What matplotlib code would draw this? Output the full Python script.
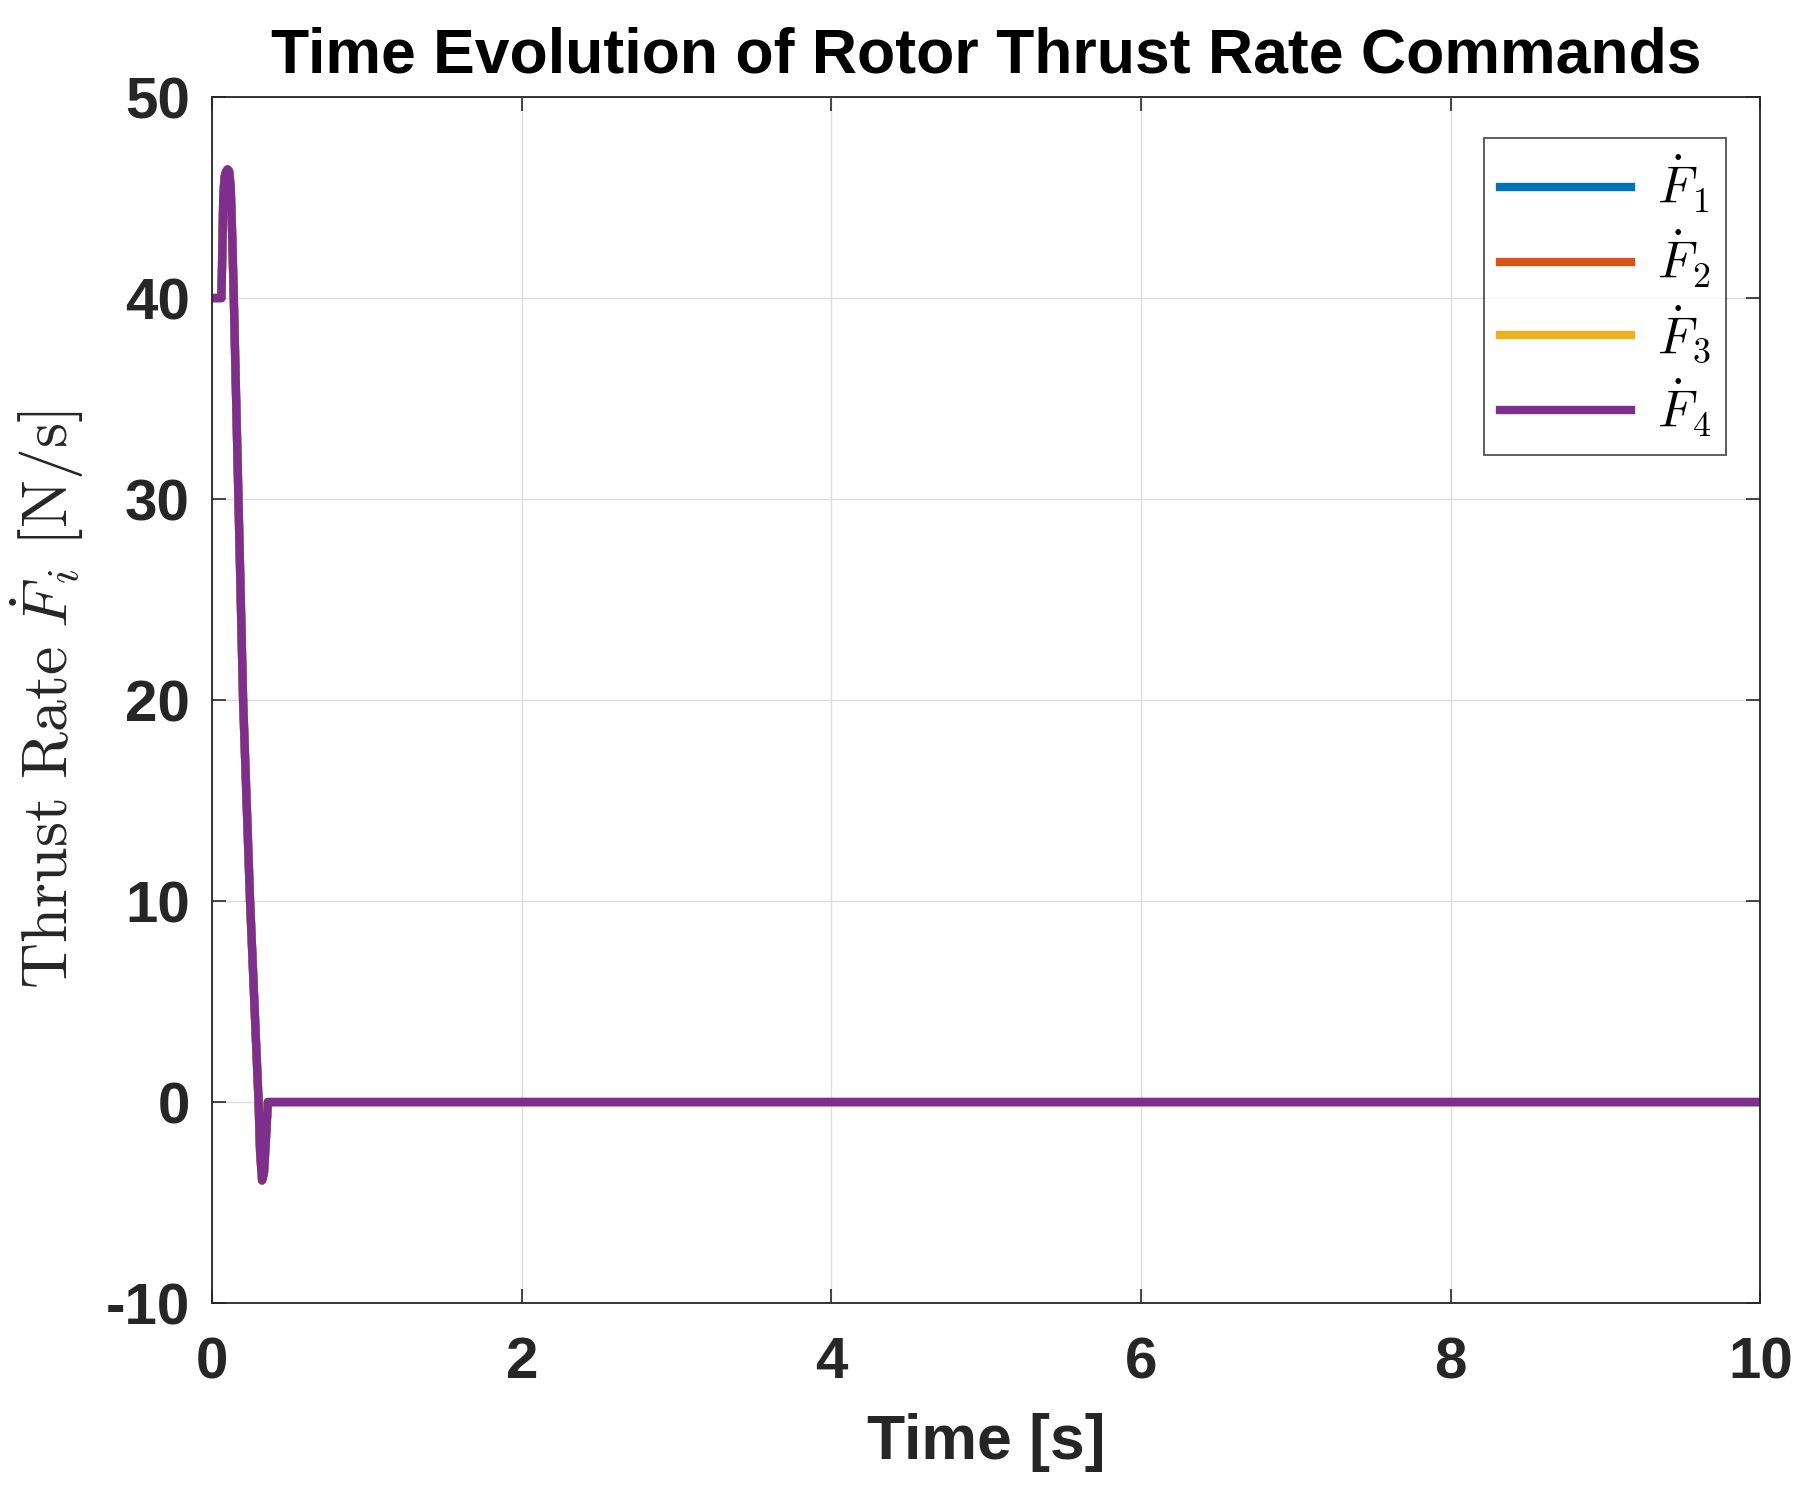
import matplotlib
matplotlib.use('Agg')
import matplotlib.pyplot as plt

# thrust rate command, all four rotors give the same trace
t = [0, 0.06, 0.065, 0.072, 0.08, 0.09, 0.10, 0.11, 0.12, 0.13, 0.14,
     0.155, 0.17, 0.20, 0.245, 0.30, 0.31, 0.323, 0.335, 0.35, 0.36, 10]
f_dot = [40, 40, 42, 45, 46.0, 46.3, 46.4, 46.3, 45.5, 43, 40,
         35, 30, 20, 10, 0, -2.5, -3.9, -3.5, -1.5, 0, 0]

labels = [r'$\dot{F}_1$', r'$\dot{F}_2$', r'$\dot{F}_3$', r'$\dot{F}_4$']
colors = ['#0072BD', '#D95319', '#EDB120', '#7E2F8E']
xticks = [0, 2, 4, 6, 8, 10]
yticks = [-10, 0, 10, 20, 30, 40, 50]

plt.rcParams['font.family'] = ['Liberation Sans', 'DejaVu Sans']
plt.rcParams['mathtext.fontset'] = 'cm'

fig = plt.figure(figsize=(18.13, 15.0), dpi=100)
ax = fig.add_axes([0.117, 0.1313, 0.854, 0.804])

for lab, c in zip(labels, colors):
    ax.plot(t, f_dot, color=c, linewidth=6, label=lab)

ax.set_xlim(0, 10)
ax.set_ylim(-10, 50)
ax.set_xticks(xticks)
ax.set_yticks(yticks)
ax.set_xticklabels([str(v) for v in xticks], fontsize=42, fontweight='bold')
ax.set_yticklabels([str(v) for v in yticks], fontsize=42, fontweight='bold')
ax.tick_params(direction='in', length=10, width=1.2, top=True, right=True,
               colors='#262626')
ax.tick_params(axis='x', pad=24)
ax.tick_params(axis='y', pad=16)
ax.grid(True, color='#dcdcdc', linewidth=1.0)
for s in ax.spines.values():
    s.set_color('#262626')
    s.set_linewidth(1.3)

ax.set_title('Time Evolution of Rotor Thrust Rate Commands', fontsize=45,
             fontweight='bold', pad=18)
ax.set_xlabel('Time [s]', fontsize=45, fontweight='bold', color='#262626',
              labelpad=16)
ax.set_ylabel(r'$\mathrm{Thrust\ Rate}\ \dot{F}_i\ \mathrm{[N/s]}$',
              fontsize=46, color='#262626', labelpad=14)

leg = ax.legend(loc='upper right', bbox_to_anchor=(0.978, 0.966),
                fontsize=37, frameon=True, fancybox=False,
                edgecolor='#262626', handlelength=2.55, borderaxespad=0.0,
                labelspacing=0.25, handletextpad=0.5, borderpad=0.3)
leg.get_frame().set_linewidth(1.3)

fig.savefig('out.png', dpi=100)
